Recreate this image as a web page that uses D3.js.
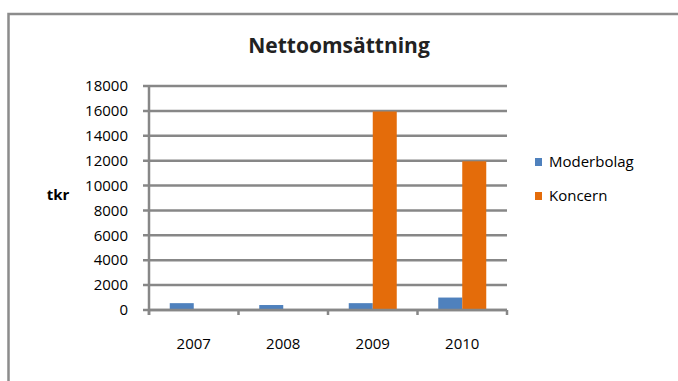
<!DOCTYPE html>
<html>
<head>
<meta charset="utf-8">
<script src="https://cdn.jsdelivr.net/npm/d3@7"></script>
<style>
  body { margin: 0; background: #fff; }
  svg { display: block; font-family: "Open Sans", "Liberation Sans", Arial, sans-serif; }
</style>
</head>
<body>
<div id="chart"></div>
<script>
// data
const years = ["2007", "2008", "2009", "2010"];
const moderbolag = [550, 400, 550, 1000];
const koncern = [0, 0, 15950, 11950];
const seriesNames = ["Moderbolag", "Koncern"];
const yTicks = [0, 2000, 4000, 6000, 8000, 10000, 12000, 14000, 16000, 18000];

const colors = ["#4f81bd", "#e46c0a"];
const W = 678, H = 381;

const svg = d3.select("#chart").append("svg")
    .attr("width", W)
    .attr("height", H);

// outer chart frame (runs off right and bottom edges)
svg.append("rect")
    .attr("x", 8.5).attr("y", 14)
    .attr("width", 700).attr("height", 400)
    .attr("fill", "#fff")
    .attr("stroke", "#8c8c8c")
    .attr("stroke-width", 2.5);

const plot = {left: 149, right: 507, top: 86, bottom: 310};

const x = d3.scaleBand()
    .domain(years)
    .range([plot.left, plot.right]);

const y = d3.scaleLinear()
    .domain([0, 18000])
    .range([plot.bottom, plot.top]);

// gridlines
svg.append("g")
    .selectAll("line")
    .data(yTicks)
    .enter().append("line")
    .attr("x1", plot.left - 6)
    .attr("x2", plot.right)
    .attr("y1", d => y(d))
    .attr("y2", d => y(d))
    .attr("stroke", "#878787")
    .attr("stroke-width", 2.5);

// y axis labels
svg.append("g")
    .selectAll("text")
    .data(yTicks)
    .enter().append("text")
    .attr("x", plot.left - 21)
    .attr("y", d => y(d))
    .attr("dy", "0.35em")
    .attr("text-anchor", "end")
    .attr("font-size", "15px")
    .attr("fill", "#000")
    .text(d => d);

// bars
const barW = 24;
const groups = svg.append("g")
    .selectAll("g")
    .data(years)
    .enter().append("g")
    .attr("transform", d => "translate(" + (x(d) + x.bandwidth() / 2) + ",0)");

[moderbolag, koncern].forEach(function (vals, s) {
    groups.append("rect")
        .attr("x", s === 0 ? -barW : 0)
        .attr("y", (d, i) => y(vals[i]))
        .attr("width", barW)
        .attr("height", (d, i) => y(0) - y(vals[i]))
        .attr("fill", colors[s]);
});

// x axis line with tick marks
svg.append("line")
    .attr("x1", plot.left).attr("x2", plot.right)
    .attr("y1", y(0)).attr("y2", y(0))
    .attr("stroke", "#878787").attr("stroke-width", 2.5);

svg.append("line")
    .attr("x1", plot.left).attr("x2", plot.left)
    .attr("y1", plot.top).attr("y2", y(0) + 5)
    .attr("stroke", "#878787").attr("stroke-width", 2.5);

const bounds = years.map(d => x(d)).concat([plot.right]);
svg.append("g")
    .selectAll("line")
    .data(bounds)
    .enter().append("line")
    .attr("x1", d => d).attr("x2", d => d)
    .attr("y1", y(0)).attr("y2", y(0) + 5)
    .attr("stroke", "#878787").attr("stroke-width", 2.5);

// x labels
svg.append("g")
    .selectAll("text")
    .data(years)
    .enter().append("text")
    .attr("x", d => x(d) + x.bandwidth() / 2)
    .attr("y", 344)
    .attr("dy", "0.35em")
    .attr("text-anchor", "middle")
    .attr("font-size", "15px")
    .text(d => d);

// title
svg.append("text")
    .attr("x", 339).attr("y", 53)
    .attr("text-anchor", "middle")
    .attr("font-size", "21px")
    .attr("font-weight", "bold")
    .attr("fill", "#222")
    .text("Nettoomsättning");

// y axis title
svg.append("text")
    .attr("x", 58).attr("y", 195)
    .attr("dy", "0.35em")
    .attr("text-anchor", "middle")
    .attr("font-size", "15px")
    .attr("font-weight", "bold")
    .text("tkr");

// legend
const legend = svg.append("g")
    .selectAll("g")
    .data(seriesNames)
    .enter().append("g")
    .attr("transform", (d, i) => "translate(535," + (162 + i * 34) + ")");

legend.append("rect")
    .attr("x", 0).attr("y", -4)
    .attr("width", 7).attr("height", 8)
    .attr("fill", (d, i) => colors[i]);

legend.append("text")
    .attr("x", 14).attr("y", 0)
    .attr("dy", "0.35em")
    .attr("font-size", "15px")
    .text(d => d);
</script>
</body>
</html>
